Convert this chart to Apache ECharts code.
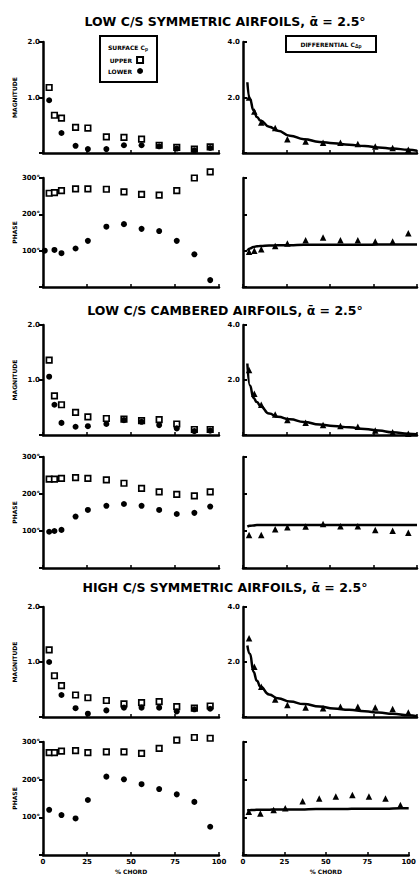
<!DOCTYPE html>
<html><head><meta charset="utf-8">
<script src="https://cdn.jsdelivr.net/npm/echarts@6/dist/echarts.min.js"></script>
<style>html,body{margin:0;padding:0;background:#fff}#c{width:419px;height:875px}</style>
</head><body><div id="c"></div>
<script>
// ---------------- DATA ----------------
const chordStations = [1, 3.5, 6.5, 10.5, 18.5, 25.5, 36, 46, 56, 66, 76, 86, 95];
const theoryChord   = [2.5, 4, 6, 8, 10, 15, 20, 27, 35, 44, 52, 61, 70, 78, 86, 95, 100];

const panelTitles = [
  'LOW C/S SYMMETRIC AIRFOILS, ᾱ = 2.5°',
  'LOW C/S CAMBERED AIRFOILS, ᾱ = 2.5°',
  'HIGH C/S SYMMETRIC AIRFOILS, ᾱ = 2.5°'
];
const xTickLabels = ['0', '25', '50', '75', '100'];
const magLeftLabels  = ['', '1.0', '2.0'];
const magRightLabels = ['', '2.0', '4.0'];
const phaseLabels    = ['', '100°', '200°', '300°'];

// LOW C/S SYMMETRIC
const lowSymUpperMag   = [null, 1.18, 0.68, 0.63, 0.46, 0.45, 0.29, 0.28, 0.25, 0.14, 0.10, 0.07, 0.11];
const lowSymLowerMag   = [null, 0.95, null, 0.36, 0.13, 0.07, 0.07, 0.14, 0.14, 0.12, 0.08, 0.05, 0.09];
const lowSymUpperPhase = [null, 258, 260, 265, 270, 270, 269, 262, 255, 253, 265, 300, 317];
const lowSymLowerPhase = [100, null, 102, 93, 106, 127, 166, 173, 160, 154, 127, 90, 19];
const lowSymDiffMagTheory   = [2.55, 1.95, 1.55, 1.3, 1.17, 0.95, 0.8, 0.62, 0.5, 0.4, 0.35, 0.3, 0.25, 0.2, 0.16, 0.12, 0.08];
const lowSymDiffMagExp      = [null, 2.0, 1.5, 1.1, 0.9, 0.5, 0.41, 0.37, 0.37, 0.32, 0.23, 0.18, 0.12];
const lowSymDiffPhaseTheory = [100, 106, 110, 112, 113, 114, 115, 115, 116, 116, 116, 116, 116, 117, 117, 117, 117];
const lowSymDiffPhaseExp    = [null, 97, 100, 104, 113, 120, 129, 136, 129, 129, 125, 125, 148];

// LOW C/S CAMBERED
const lowCamUpperMag   = [null, 1.36, 0.71, 0.55, 0.41, 0.33, 0.30, 0.29, 0.26, 0.28, 0.20, 0.10, 0.10];
const lowCamLowerMag   = [null, 1.06, 0.55, 0.22, 0.15, 0.16, 0.20, 0.27, 0.24, 0.18, 0.12, 0.07, 0.08];
const lowCamUpperPhase = [null, 240, 240, 242, 244, 242, 238, 229, 215, 206, 199, 195, 206];
const lowCamLowerPhase = [null, 98, 100, 103, 139, 157, 168, 173, 168, 157, 146, 149, 166];
const lowCamDiffMagTheory   = [2.6, 1.8, 1.35, 1.2, 1.05, 0.78, 0.66, 0.57, 0.47, 0.38, 0.33, 0.28, 0.22, 0.16, 0.1, 0.05, 0.03];
const lowCamDiffMagExp      = [null, 2.36, 1.5, 1.1, 0.75, 0.55, 0.45, 0.36, 0.33, 0.30, 0.16, 0.10, 0.05];
const lowCamDiffPhaseTheory = [112, 114, 115, 116, 116, 116, 116, 116, 116, 116, 116, 116, 116, 116, 116, 116, 116];
const lowCamDiffPhaseExp    = [null, 89, null, 89, 105, 110, 112, 119, 113, 113, 103, 101, 95];

// HIGH C/S SYMMETRIC
const highSymUpperMag   = [null, 1.22, 0.75, 0.57, 0.40, 0.35, 0.30, 0.24, 0.26, 0.28, 0.19, 0.16, 0.20];
const highSymLowerMag   = [null, 1.0, null, 0.40, 0.16, 0.06, 0.12, 0.17, 0.17, 0.17, 0.10, 0.14, 0.15];
const highSymUpperPhase = [null, 272, 272, 276, 277, 272, 274, 274, 270, 283, 305, 312, 310];
const highSymLowerPhase = [null, 120, null, 106, 97, 146, 208, 201, 188, 175, 161, 141, 75];
const highSymDiffMagTheory   = [2.6, 2.3, 1.65, 1.32, 1.1, 0.82, 0.68, 0.56, 0.47, 0.38, 0.31, 0.26, 0.21, 0.16, 0.12, 0.06, 0.03];
const highSymDiffMagExp      = [null, 2.86, 1.83, 1.1, 0.64, 0.44, 0.35, 0.32, 0.37, 0.37, 0.35, 0.29, 0.16];
const highSymDiffPhaseTheory = [119, 119, 119.5, 120, 120, 120, 121, 121, 121, 122, 122, 122, 123, 123, 123, 124, 124];
const highSymDiffPhaseExp    = [null, 115, null, 110, 119.5, 124, 143, 150, 155, 159, 155, 150, 133];

// ---------------- BUILD ----------------
const groups = [
  {um: lowSymUpperMag, lm: lowSymLowerMag, up: lowSymUpperPhase, lp: lowSymLowerPhase,
   tm: lowSymDiffMagTheory, em: lowSymDiffMagExp, tp: lowSymDiffPhaseTheory, ep: lowSymDiffPhaseExp},
  {um: lowCamUpperMag, lm: lowCamLowerMag, up: lowCamUpperPhase, lp: lowCamLowerPhase,
   tm: lowCamDiffMagTheory, em: lowCamDiffMagExp, tp: lowCamDiffPhaseTheory, ep: lowCamDiffPhaseExp},
  {um: highSymUpperMag, lm: highSymLowerMag, up: highSymUpperPhase, lp: highSymLowerPhase,
   tm: highSymDiffMagTheory, em: highSymDiffMagExp, tp: highSymDiffPhaseTheory, ep: highSymDiffPhaseExp}
];

const rows = [
  {top: 42, h: 111}, {top: 178, h: 109},
  {top: 325, h: 110}, {top: 457, h: 111},
  {top: 607, h: 110}, {top: 742, h: 113}
];
const cols = [{left: 43, w: 176}, {left: 243, w: 174}];
const titleY = [21, 310, 587];
const FONT = 'DejaVu Sans';

function pairs(xs, ys) {
  return xs.map((x, i) => [x, ys[i]]).filter(p => p[1] != null);
}

const grid = [], xAxis = [], yAxis = [], series = [];
rows.forEach((r, ri) => {
  cols.forEach((c, ci) => {
    grid.push({left: c.left, top: r.top, width: c.w, height: r.h, containLabel: false});
    const isLast = ri === rows.length - 1;
    xAxis.push({
      gridIndex: grid.length - 1, type: 'value', min: 0, max: 100, interval: 25,
      axisLine: {show: true, onZero: false, lineStyle: {color: '#000', width: 2.5}},
      axisTick: {show: true, inside: true, length: 3, lineStyle: {color: '#000', width: 1.5}},
      axisLabel: {show: isLast, color: '#000', fontSize: 7, fontWeight: 'bold', fontFamily: FONT, margin: 3,
        formatter: v => xTickLabels[xTickLabels.indexOf(String(v))] || String(v)},
      splitLine: {show: false},
      name: isLast ? '% CHORD' : '', nameLocation: 'middle', nameGap: 13,
      nameTextStyle: {color: '#000', fontSize: 6, fontWeight: 'bold', fontFamily: FONT}
    });
    const isMag = ri % 2 === 0;
    let ymax, yint, labels;
    if (isMag) { ymax = ci === 0 ? 2 : 4; yint = ci === 0 ? 1 : 2; labels = ci === 0 ? magLeftLabels : magRightLabels; }
    else { ymax = 300; yint = 100; labels = phaseLabels; }
    yAxis.push({
      gridIndex: grid.length - 1, type: 'value', min: 0, max: ymax, interval: yint,
      axisLine: {show: true, onZero: false, lineStyle: {color: '#000', width: 2.5}},
      axisTick: {show: true, inside: ci === 1, length: 4, lineStyle: {color: '#000', width: 2}},
      axisLabel: {show: ci === 0 || isMag, color: '#000', fontSize: 7, fontWeight: 'bold', fontFamily: FONT, margin: 3,
        formatter: v => labels[Math.round(v / yint)] || ''},
      splitLine: {show: false},
      name: ci === 0 ? (isMag ? 'MAGNITUDE' : 'PHASE') : '',
      nameLocation: 'middle', nameRotate: 90, nameGap: 26,
      nameTextStyle: {color: '#000', fontSize: 6, fontWeight: 'bold', fontFamily: FONT}
    });
  });
});

groups.forEach((g, gi) => {
  const magRow = gi * 2, phRow = gi * 2 + 1;
  const idx = (r, c) => r * 2 + c;
  [[magRow, g.um, g.lm], [phRow, g.up, g.lp]].forEach(([r, u, l]) => {
    series.push({type: 'scatter', name: 'UPPER', xAxisIndex: idx(r, 0), yAxisIndex: idx(r, 0),
      clip: false, data: pairs(chordStations, u), z: 3, symbol: 'rect', symbolSize: 5.5,
      itemStyle: {color: '#fff', borderColor: '#000', borderWidth: 1.7, opacity: 1}});
    series.push({type: 'scatter', name: 'LOWER', xAxisIndex: idx(r, 0), yAxisIndex: idx(r, 0),
      clip: false, data: pairs(chordStations, l), z: 4, symbol: 'circle', symbolSize: 6,
      itemStyle: {color: '#000', opacity: 1}});
  });
  [[magRow, g.tm, g.em], [phRow, g.tp, g.ep]].forEach(([r, t, e]) => {
    series.push({type: 'line', name: 'THEORY', xAxisIndex: idx(r, 1), yAxisIndex: idx(r, 1),
      data: pairs(theoryChord, t), showSymbol: false, symbol: 'none', smooth: true, smoothMonotone: 'x',
      lineStyle: {color: '#000', width: 2.5}, z: 2});
    series.push({type: 'scatter', name: 'EXPERIMENT', xAxisIndex: idx(r, 1), yAxisIndex: idx(r, 1),
      data: pairs(chordStations, e), symbol: 'triangle', symbolSize: 6.5, clip: false,
      itemStyle: {color: '#000', opacity: 1}, z: 3});
  });
});

const graphic = [];
panelTitles.forEach((t, i) => {
  graphic.push({type: 'text', x: 225, y: titleY[i],
    style: {text: t, fill: '#000', font: 'bold 12.5px "DejaVu Sans"', textAlign: 'center', textVerticalAlign: 'middle'}});
});
// left legend box
graphic.push({type: 'rect', shape: {x: 100, y: 36, width: 57, height: 46},
  style: {fill: 'none', stroke: '#000', lineWidth: 2}, z: 10});
graphic.push({type: 'text', x: 128, y: 47,
  style: {text: 'SURFACE C{s|p}', rich: {s: {fontSize: 5, fontWeight: 'bold', padding: [3, 0, 0, 0]}},
    fill: '#000', font: 'bold 6px "DejaVu Sans"', textAlign: 'center', textVerticalAlign: 'middle'}, z: 10});
// right legend box
graphic.push({type: 'rect', shape: {x: 286, y: 36, width: 90, height: 16},
  style: {fill: 'none', stroke: '#000', lineWidth: 2}, z: 10});
graphic.push({type: 'text', x: 331, y: 44,
  style: {text: 'DIFFERENTIAL C{s|Δp}', rich: {s: {fontSize: 5, fontWeight: 'bold', padding: [3, 0, 0, 0]}},
    fill: '#000', font: 'bold 6px "DejaVu Sans"', textAlign: 'center', textVerticalAlign: 'middle'}, z: 10});

const option = {
  backgroundColor: '#fff',
  animation: false,
  grid, xAxis, yAxis, series, graphic,
  legend: {
    data: ['UPPER', 'LOWER'], orient: 'vertical', left: 108, top: 56, align: 'right',
    itemWidth: 6, itemHeight: 6, itemGap: 4, padding: 0, selectedMode: false, inactiveColor: '#000',
    textStyle: {color: '#000', fontSize: 6, fontWeight: 'bold', fontFamily: FONT, width: 32}
  }
};
const chart = echarts.init(document.getElementById('c'), null, {renderer: 'svg'});
chart.setOption(option);
</script></body></html>
